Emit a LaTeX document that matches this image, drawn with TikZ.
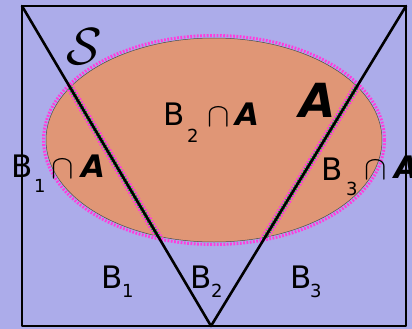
\documentclass[tikz,border=0pt]{standalone}
\usepackage{fontspec}
\setmainfont{DejaVu Sans}
\begin{document}
\begin{tikzpicture}[x=1pt,y=-1pt,
  txt/.style={inner sep=0pt,outer sep=0pt,anchor=base west,font=\fontsize{31}{31}\selectfont},
  sub/.style={inner sep=0pt,outer sep=0pt,anchor=base west,font=\fontsize{18}{18}\selectfont},
  capA/.style={inner sep=0pt,outer sep=0pt,anchor=base west,font=\fontsize{31}{31}\selectfont\bfseries\itshape},
  cup/.style={inner sep=0pt,outer sep=0pt,anchor=base west,font=\fontsize{24}{24}\selectfont,scale=1.35},
  edge/.style={line width=2.6pt,line cap=round,line join=round}]
\definecolor{bgc}{RGB}{172,172,234}
\definecolor{ellc}{RGB}{224,150,118}
\definecolor{rimc}{RGB}{255,60,220}
\clip (0,0) rectangle (412,329);
\fill[bgc] (0,0) rectangle (412,329);
\useasboundingbox (0,0) rectangle (412,329);
% ellipse A
\coordinate (c) at (214,140);
\fill[ellc] (c) ellipse [x radius=168, y radius=102];
\draw[rimc,line width=3pt,dash pattern=on 1.8pt off 1.5pt] (c) ellipse [x radius=170.5, y radius=104.5];
\draw[black!70,line width=0.5pt] (c) ellipse [x radius=168, y radius=102];
% corners
\coordinate (tl) at (22,6);
\coordinate (tr) at (406,6);
\coordinate (br) at (406,326);
\coordinate (bl) at (22,326);
\coordinate (apex) at (211,326);
% magenta dotted along partition lines inside ellipse
\begin{scope}
  \clip (c) ellipse [x radius=169, y radius=103];
  \draw[rimc,line width=8pt,dash pattern=on 1.8pt off 1.5pt] (tl) -- (apex) -- (tr);
  \draw[green!50!teal,line width=4.6pt,dash pattern=on 1.2pt off 1.6pt] (tl) -- (apex) -- (tr);
\end{scope}
% sample space
\draw[edge] (tl) -- (tr) -- (br) -- (bl) -- cycle;
\draw[edge] (tl) -- (apex) -- (tr);
% labels
\node[inner sep=0pt,anchor=base west,font=\fontsize{24}{24}\selectfont,scale=2.1] (S) at (66,64) {$\mathcal{S}$};
\node[capA,font=\fontsize{47}{47}\selectfont\bfseries\itshape] (bigA) at (299,117) {A};
% B2 cap A
\node[txt] (b2a) at (163,125) {B};
\node[sub] (b2as) at (187,142) {2};
\node[cup] (b2ac) at (207,126) {$\cap$};
\node[capA] (b2aA) at (235,125) {A};
% B1 cap A
\node[txt] (b1a) at (12,177) {B};
\node[sub] (b1as) at (34,192) {1};
\node[cup] (b1ac) at (51,178) {$\cap$};
\node[capA] (b1aA) at (81,177) {A};
% B3 cap A
\node[txt] (b3a) at (321,180) {B};
\node[sub] (b3as) at (346,195) {3};
\node[cup] (b3ac) at (364,179) {$\cap$};
\node[capA] (b3aA) at (394,178) {A};
% bottom labels
\node[txt] (b1) at (101,288) {B};
\node[sub] (b1s) at (122,297) {1};
\node[txt] (b2) at (190,288) {B};
\node[sub] (b2s) at (211,297) {2};
\node[txt] (b3) at (290,288) {B};
\node[sub] (b3s) at (310,297) {3};
\end{tikzpicture}
\end{document}
